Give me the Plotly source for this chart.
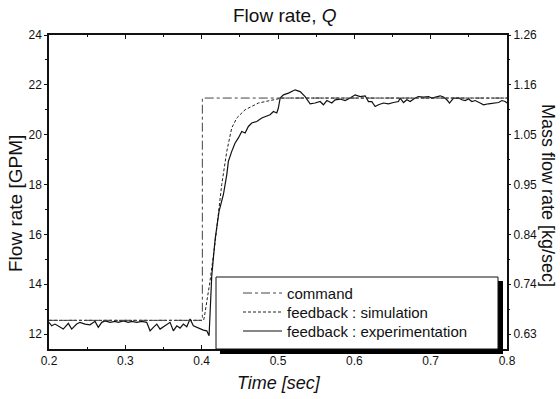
import plotly.graph_objects as go

# ---- data ----
cmd_t = [0.2, 0.4009, 0.4009, 0.8]
cmd_q = [12.55, 12.55, 21.47, 21.47]

sim_t = [0.2, 0.4025, 0.4036, 0.4107, 0.4176, 0.4219, 0.4263, 0.4329, 0.4394,
         0.446, 0.4569, 0.4743, 0.4918, 0.505, 0.8]
sim_q = [12.55, 12.55, 12.7, 14.07, 15.67, 16.93, 18.0, 19.33, 20.27,
         20.67, 21.0, 21.27, 21.4, 21.47, 21.47]

exp_t = [0.2, 0.2035, 0.2079, 0.2144, 0.2187, 0.2253, 0.2297, 0.2363, 0.2406, 0.2472,
         0.2537, 0.2603, 0.2646, 0.2691, 0.2734, 0.28, 0.2865, 0.2908, 0.2974, 0.3039,
         0.3084, 0.3149, 0.3215, 0.328, 0.3324, 0.3367, 0.3412, 0.3455, 0.352, 0.3586,
         0.3629, 0.3674, 0.3717, 0.376, 0.3805, 0.3848, 0.3891, 0.3936, 0.3979, 0.4022,
         0.4067, 0.4088, 0.4097, 0.4132, 0.4176, 0.4228, 0.4285, 0.4329, 0.435, 0.4394,
         0.4438, 0.4481, 0.4525, 0.4569, 0.4612, 0.4656, 0.4722, 0.4787, 0.4831, 0.4896,
         0.494, 0.4984, 0.5005, 0.5028, 0.5071, 0.5137, 0.5224, 0.529, 0.5355, 0.5421,
         0.5486, 0.5552, 0.5595, 0.564, 0.5705, 0.5748, 0.5814, 0.5879, 0.5945, 0.601,
         0.6076, 0.6142, 0.6185, 0.6229, 0.6273, 0.6316, 0.6382, 0.6447, 0.6513, 0.6578,
         0.66, 0.6644, 0.6688, 0.6731, 0.6797, 0.684, 0.6906, 0.6971, 0.7016, 0.7081,
         0.7124, 0.7168, 0.7212, 0.7247, 0.7299, 0.7365, 0.7409, 0.7452, 0.7496, 0.754,
         0.7583, 0.7649, 0.7692, 0.7757, 0.7823, 0.7889, 0.7933, 0.7976, 0.8]
exp_q = [12.47, 12.33, 12.4, 12.27, 12.2, 12.43, 12.2, 12.4, 12.47, 12.4,
         12.37, 12.51, 12.27, 12.47, 12.53, 12.47, 12.51, 12.47, 12.53, 12.47,
         12.51, 12.47, 12.51, 12.47, 12.13, 12.27, 12.4, 12.2, 12.33, 12.47,
         12.13, 12.33, 12.24, 12.4, 12.29, 12.6, 12.33, 12.27, 12.2, 12.16,
         12.13, 12.0, 11.93, 14.33, 15.8, 16.93, 17.6, 18.4, 18.93, 19.33,
         19.67, 19.87, 20.13, 20.07, 20.33, 20.47, 20.53, 20.67, 20.73, 20.8,
         20.93, 20.87, 21.07, 21.47, 21.6, 21.67, 21.8, 21.73, 21.53, 21.24,
         21.27, 21.33, 21.2, 21.37, 21.27, 21.4, 21.43, 21.37, 21.47, 21.6,
         21.53, 21.56, 21.33, 21.33, 21.13, 21.2, 21.27, 21.24, 21.29, 21.33,
         21.47, 21.29, 21.4, 21.33, 21.47, 21.53, 21.51, 21.53, 21.47, 21.53,
         21.56, 21.51, 21.4, 21.27, 21.47, 21.47, 21.4, 21.37, 21.43, 21.33,
         21.37, 21.27, 21.2, 21.24, 21.27, 21.29, 21.37, 21.33, 21.27]

left_ticks = [12, 14, 16, 18, 20, 22, 24]
right_ticktext = ["0.63", "0.74", "0.84", "0.95", "1.05", "1.16", "1.26"]
x_ticks = [0.2, 0.3, 0.4, 0.5, 0.6, 0.7, 0.8]
legend_names = ["command", "feedback : simulation", "feedback : experimentation"]

FONT = "Liberation Sans, Arial, sans-serif"
INK = "#111"

fig = go.Figure()
fig.add_trace(go.Scatter(x=cmd_t, y=cmd_q, mode="lines", showlegend=False, yaxis="y2",
                         line=dict(color="#444", width=1, dash="dashdot")))
fig.add_trace(go.Scatter(x=sim_t, y=sim_q, mode="lines", showlegend=False,
                         line=dict(color="#222", width=1, dash="3px,2px")))
fig.add_trace(go.Scatter(x=exp_t, y=exp_q, mode="lines", showlegend=False,
                         line=dict(color=INK, width=1.2)))

yr = [11.4, 24]
fig.update_layout(
    width=560, height=399,
    margin=dict(l=49, r=53, t=35, b=50, autoexpand=False),
    paper_bgcolor="white", plot_bgcolor="white",
    font=dict(family=FONT, color=INK, size=12),
    xaxis=dict(range=[0.2, 0.8], tickvals=x_ticks, ticktext=[str(v) for v in x_ticks],
               showgrid=False, zeroline=False, showline=True, linecolor=INK,
               linewidth=1.5, mirror="ticks", ticks="inside", ticklen=4,
               tickcolor=INK, automargin=False,
               minor=dict(dtick=0.05, tick0=0.2, ticks="inside", ticklen=2,
                          tickcolor=INK)),
    yaxis=dict(range=yr, tickvals=left_ticks, showgrid=False, zeroline=False,
               showline=True, linecolor=INK, linewidth=1.5, mirror=True,
               ticks="outside", ticklen=3, tickcolor=INK, automargin=False,
               minor=dict(dtick=1, tick0=12, ticks="outside", ticklen=2,
                          tickcolor=INK)),
    yaxis2=dict(range=yr, overlaying="y", side="right", tickvals=left_ticks,
                ticktext=right_ticktext, showgrid=False, zeroline=False,
                showline=False, ticks="outside", ticklen=3, tickcolor=INK,
                automargin=False,
                minor=dict(dtick=1, tick0=12, ticks="outside", ticklen=2,
                           tickcolor=INK)),
)

# page-pixel -> paper coordinates (plot area spans x 49..507, y 35..349)
def px_x(p):
    return (p - 49) / 458.0

def px_y(p):
    return (349 - p) / 314.0

fig.add_annotation(text="Flow rate, <i>Q</i>", xref="paper", yref="paper",
                   x=px_x(285), y=px_y(16), showarrow=False,
                   xanchor="center", yanchor="middle",
                   font=dict(size=19, family=FONT, color=INK))
fig.add_annotation(text="<i>Time [sec]</i>", xref="paper", yref="paper",
                   x=px_x(279), y=px_y(383), showarrow=False,
                   xanchor="center", yanchor="middle",
                   font=dict(size=18, family=FONT, color=INK))
fig.add_annotation(text="Flow rate [GPM]", xref="paper", yref="paper",
                   x=px_x(15), y=px_y(204), textangle=-90, showarrow=False,
                   xanchor="center", yanchor="middle",
                   font=dict(size=19, family=FONT, color=INK))
fig.add_annotation(text="Mass flow rate [kg/sec]", xref="paper", yref="paper",
                   x=px_x(548), y=px_y(195), textangle=90, showarrow=False,
                   xanchor="center", yanchor="middle",
                   font=dict(size=18, family=FONT, color=INK))

# legend box with shadow (paper coords)
shapes = []
shapes.append(dict(type="rect", xref="paper", yref="paper", layer="above",
                   x0=px_x(220), x1=px_x(503), y0=px_y(354), y1=px_y(348),
                   fillcolor="black", line=dict(width=0)))
shapes.append(dict(type="rect", xref="paper", yref="paper", layer="above",
                   x0=px_x(497), x1=px_x(503), y0=px_y(354), y1=px_y(281),
                   fillcolor="black", line=dict(width=0)))
shapes.append(dict(type="rect", xref="paper", yref="paper", layer="above",
                   x0=px_x(216), x1=px_x(498), y0=px_y(349), y1=px_y(277),
                   fillcolor="white", line=dict(color=INK, width=1)))
styles = [dict(color="#444", width=1, dash="dashdot"),
          dict(color="#222", width=1, dash="3px,2px"),
          dict(color=INK, width=1.2)]
rows = [293, 312, 331]
for name, st, ry in zip(legend_names, styles, rows):
    shapes.append(dict(type="line", xref="paper", yref="paper", layer="above",
                       x0=px_x(243), x1=px_x(282), y0=px_y(ry), y1=px_y(ry),
                       line=st))
    fig.add_annotation(text=name, xref="paper", yref="paper", x=px_x(285),
                       y=px_y(ry), xanchor="left", yanchor="middle",
                       showarrow=False, font=dict(size=15, family=FONT, color=INK))
fig.update_layout(shapes=shapes)

# remove the browser's default 8px body margin so the figure fills the window
fig.write_html("out.html", config={"displayModeBar": False},
               post_script="document.body.style.margin='0';")
